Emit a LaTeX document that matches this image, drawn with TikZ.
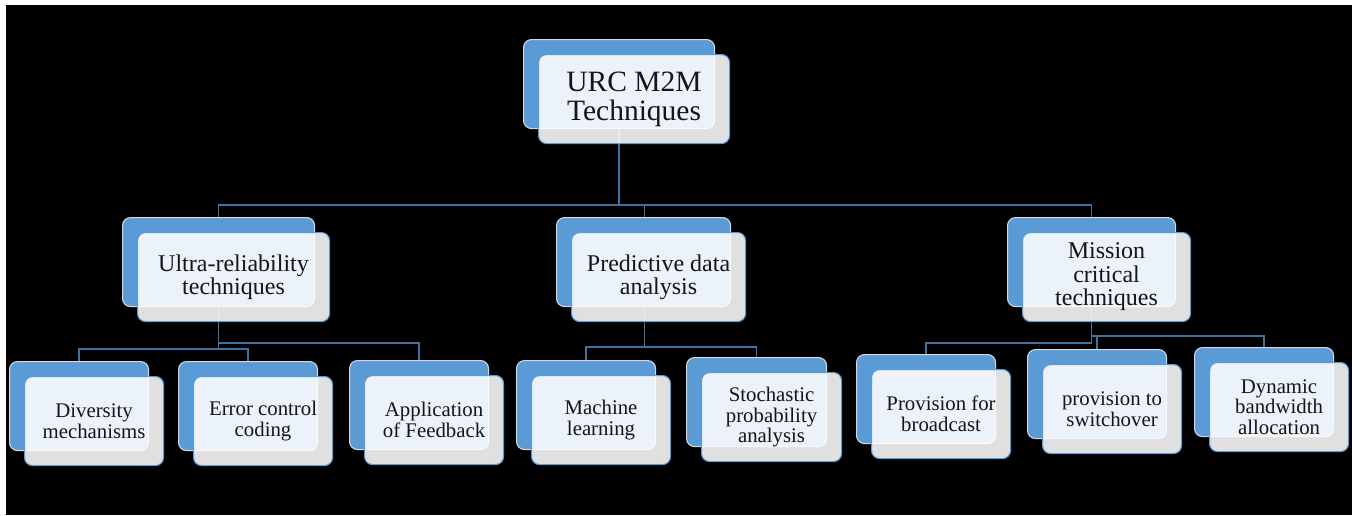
\documentclass[tikz,border=0pt]{standalone}
\usepackage{fontspec}
\setmainfont{Liberation Serif}
\definecolor{boxblue}{HTML}{5B9BD5}
\definecolor{rimgray}{HTML}{D4D8DD}
\definecolor{wire}{HTML}{41719C}
\definecolor{ink}{HTML}{151515}
\tikzset{
  backbox/.style={draw=rimgray, line width=1.1pt, fill=boxblue, rounded corners=8pt,
    inner sep=0pt, anchor=north west},
  frontbox/.style={draw=boxblue, line width=1.1pt, fill=white, fill opacity=0.88,
    text opacity=1, text=ink, rounded corners=8pt, inner sep=0pt, align=center,
    anchor=north west},
  wire/.style={draw=wire, line width=1.3pt},
  rootfont/.style={font=\fontsize{29.5}{29}\selectfont},
  midfont/.style={font=\fontsize{24}{23.5}\selectfont},
  leaffont/.style={font=\fontsize{20.8}{20.8}\selectfont},
}
% #1 name, #2 left, #3 top, #4 width, #5 height
\newcommand{\orgbox}[5]{%
  \node[backbox, minimum width=#4pt, minimum height=#5pt] (#1) at (#2,#3) {};
}
% #1 name, #2 left, #3 top, #4 width, #5 height, #6 font style, #7 label
\newcommand{\orgface}[7]{%
  \node[frontbox, #6, minimum width=#4pt, minimum height=#5pt] (#1-f) at (#2+15,#3+15) {#7};
}
\begin{document}
\begin{tikzpicture}[x=1pt, y=-1pt]
  \useasboundingbox (0,0) rectangle (1352,515);
  \fill[white] (0,0) rectangle (1352,515);
  \fill[black] (6,5) rectangle (1352,515);

  % back boxes
  \orgbox{root}{523}{39}{191}{89}
  \orgbox{ultra}{122}{217}{192}{89}
  \orgbox{pred}{556}{217}{174}{89}
  \orgbox{miss}{1007}{217}{168}{89}
  \orgbox{div}{9}{361}{139}{89}
  \orgbox{err}{178}{361}{139}{89}
  \orgbox{app}{349}{360}{139}{89}
  \orgbox{mach}{516}{360}{139}{89}
  \orgbox{stoch}{686}{357}{140}{89}
  \orgbox{bcast}{856}{354}{139}{89}
  \orgbox{swo}{1027}{349}{139}{89}
  \orgbox{dyn}{1194}{347}{139}{89}

  % connectors
  \draw[wire] (root.south) -- ++(0,76) coordinate (rbus);
  \draw[wire] (rbus) -| (ultra.north);
  \draw[wire] (rbus) -| ([xshift=1pt]pred.north);
  \draw[wire] (rbus) -| (miss.north);

  \draw[wire] (ultra.south) -- ++(0,42) coordinate (ubus) -| (div.north);
  \draw[wire] (ubus) -| (err.north);
  \draw[wire] (ultra.south) -- ++(0,36) -| (app.north);

  \draw[wire] ([xshift=1pt]pred.south) -- ++(0,40) coordinate (pbus) -| (mach.north);
  \draw[wire] (pbus) -| (stoch.north);

  \draw[wire] (miss.south) -- ++(0,36) -| (bcast.north);
  \draw[wire] (miss.south) -- ++(0,29) coordinate (mbus) -| (swo.north);
  \draw[wire] (mbus) -| (dyn.north);

  % front faces with labels
  \orgface{root}{523}{39}{191}{89}{rootfont}{URC M2M\\Techniques}
  \orgface{ultra}{122}{217}{192}{89}{midfont}{Ultra-reliability\\techniques}
  \orgface{pred}{556}{217}{174}{89}{midfont}{Predictive data\\analysis}
  \orgface{miss}{1007}{217}{168}{89}{midfont}{Mission\\critical\\techniques}
  \orgface{div}{9}{361}{139}{89}{leaffont}{Diversity\\mechanisms}
  \orgface{err}{178}{361}{139}{89}{leaffont}{Error control\\coding}
  \orgface{app}{349}{360}{139}{89}{leaffont}{Application\\of Feedback}
  \orgface{mach}{516}{360}{139}{89}{leaffont}{Machine\\learning}
  \orgface{stoch}{686}{357}{140}{89}{leaffont}{Stochastic\\probability\\analysis}
  \orgface{bcast}{856}{354}{139}{89}{leaffont}{Provision for\\broadcast}
  \orgface{swo}{1027}{349}{139}{89}{leaffont}{provision to\\switchover}
  \orgface{dyn}{1194}{347}{139}{89}{leaffont}{Dynamic\\bandwidth\\allocation}
\end{tikzpicture}
\end{document}
